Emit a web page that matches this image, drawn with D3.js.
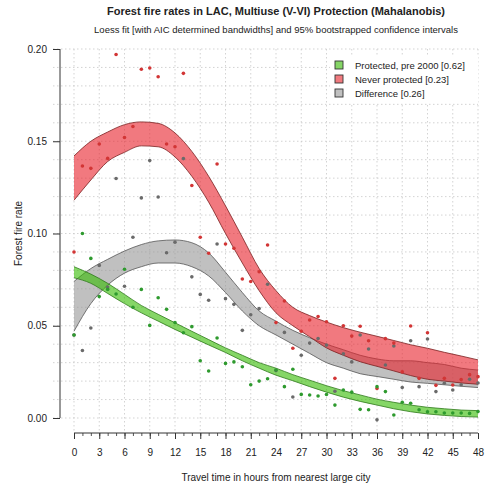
<!DOCTYPE html>
<html><head><meta charset="utf-8">
<script src="https://cdn.jsdelivr.net/npm/d3@7"></script>
<style>
html,body{margin:0;padding:0;background:#fff;}
svg text{font-family:"Liberation Sans",Arial,sans-serif;fill:#222;}
</style></head>
<body><svg id="c" width="489" height="486"></svg>
<script>
// ---- data ----
const title = "Forest fire rates in LAC, Multiuse (V-VI) Protection (Mahalanobis)";
const subtitle = "Loess fit [with AIC determined bandwidths] and 95% bootstrapped confidence intervals";
const xLabel = "Travel time in hours from nearest large city";
const yLabel = "Forest fire rate";
const xTicks = [0,3,6,9,12,15,18,21,24,27,30,33,36,39,42,45,48];
const yTicks = [0.00,0.05,0.10,0.15,0.20];
const legendLabels = ["Protected, pre 2000 [0.62]","Never protected [0.23]","Difference [0.26]"];

const hours = d3.range(0,49);
const protectedRate = [0.045,0.100,0.0865,0.0658,0.0697,0.0672,0.0806,0.060,0.0697,0.0502,0.0652,0.0589,0.0517,0.0462,0.0495,0.031,0.0255,0.0434,0.0296,0.0304,0.0278,0.018,0.020,0.0213,0.026,0.017,0.0264,0.0128,0.0125,0.0119,0.0127,0.007,0.0152,0.014,0.0047,0.0045,0.017,0.0143,0.0016,0.0085,0.008,0.0045,0.0034,0.0034,0.0027,0.0027,0.0027,0.0025,0.0035];
const neverRate = [0.090,0.1366,0.1353,0.1485,0.1407,0.197,0.152,0.158,0.189,0.1897,0.185,0.1485,0.147,0.1868,0.126,0.098,0.0893,0.1377,0.0943,0.092,0.0753,0.074,0.0793,0.0938,0.0517,0.0634,0.0378,0.047,0.0531,0.055,0.0522,0.0215,0.050,0.0444,0.0497,0.0419,0.016,0.043,0.0406,0.025,0.0499,0.0215,0.0462,0.0177,0.0215,0.0179,0.0208,0.0235,0.0224];
const diffRate = [0.045,0.0366,0.0488,0.0827,0.071,0.1298,0.0714,0.098,0.1193,0.1395,0.1198,0.0896,0.0953,0.1406,0.0765,0.067,0.0638,0.0943,0.0647,0.0616,0.0475,0.056,0.0593,0.0725,0.0257,0.0464,0.0114,0.034,0.0406,0.0431,0.0395,0.0145,0.0348,0.0304,0.045,0.0374,-0.001,0.0287,0.039,0.0165,0.0419,0.017,0.0428,0.0143,0.0188,0.0152,0.018,0.021,0.019];

const bandX = [0,2,4,6,8,10,12,14,16,18,20,22,24,26,28,30,32,34,36,38,40,42,44,46,48];
const neverUpper = [0.142,0.150,0.155,0.159,0.1605,0.1597,0.1545,0.1445,0.131,0.115,0.098,0.081,0.069,0.060,0.0555,0.052,0.049,0.0465,0.0443,0.042,0.0397,0.0378,0.0356,0.0336,0.0315];
const neverLower = [0.118,0.129,0.139,0.144,0.1475,0.147,0.1415,0.131,0.117,0.100,0.084,0.069,0.057,0.050,0.044,0.038,0.034,0.0305,0.028,0.0255,0.023,0.021,0.020,0.019,0.0183];
const diffUpper = [0.074,0.081,0.086,0.0905,0.094,0.096,0.0965,0.095,0.0895,0.079,0.068,0.058,0.0525,0.0475,0.0435,0.040,0.037,0.034,0.032,0.031,0.031,0.030,0.029,0.027,0.026];
const diffLower = [0.047,0.062,0.072,0.0785,0.082,0.084,0.084,0.082,0.077,0.068,0.058,0.050,0.045,0.040,0.035,0.030,0.027,0.024,0.0225,0.021,0.0195,0.0188,0.018,0.0172,0.0165];
const protUpper = [0.082,0.078,0.073,0.067,0.061,0.0562,0.0516,0.047,0.0425,0.038,0.034,0.030,0.027,0.0235,0.0205,0.0175,0.0148,0.0125,0.0102,0.0085,0.007,0.0058,0.005,0.0043,0.004];
const protLower = [0.076,0.073,0.0675,0.062,0.057,0.0525,0.048,0.0438,0.0396,0.0355,0.031,0.027,0.0232,0.0202,0.017,0.014,0.0113,0.009,0.007,0.005,0.0034,0.0022,0.0014,0.0008,0.0005];

// ---- drawing ----
const svg = d3.select("#c");
const x = d3.scaleLinear().domain([0,48]).range([74,478]);
const y = d3.scaleLinear().domain([0,0.2]).range([418,49]);

// grid
const grid = svg.append("g").attr("stroke","#c8c8c8").attr("stroke-width",0.8).attr("stroke-dasharray","1.5,2.5");
grid.selectAll("line.h").data(d3.range(0,21).map(i=>i/100)).join("line")
  .attr("x1",53).attr("x2",478).attr("y1",d=>y(d)).attr("y2",d=>y(d));
grid.selectAll("line.v").data(xTicks).join("line")
  .attr("x1",d=>x(d)).attr("x2",d=>x(d)).attr("y1",49).attr("y2",431);

const curve = d3.curveMonotoneX;
function band(upper, lower, fill, op, stroke){
  const pts = bandX.map((v,i)=>({x:v,u:upper[i],l:lower[i]}));
  svg.append("path").datum(pts)
    .attr("d", d3.area().curve(curve).x(d=>x(d.x)).y0(d=>y(d.l)).y1(d=>y(d.u)))
    .attr("fill",fill).attr("fill-opacity",op);
  const ln = d3.line().curve(curve).x(d=>x(d.x));
  svg.append("path").datum(pts).attr("d", ln.y(d=>y(d.u))).attr("fill","none").attr("stroke",stroke).attr("stroke-width",0.8);
  svg.append("path").datum(pts).attr("d", ln.y(d=>y(d.l))).attr("fill","none").attr("stroke",stroke).attr("stroke-width",0.8);
}
band(diffUpper, diffLower, "#969696", 0.6, "#555");
band(protUpper, protLower, "#33bb00", 0.6, "#2f7a1a");
band(neverUpper, neverLower, "#e8202a", 0.6, "#7a2020");

function pts(vals, color){
  svg.append("g").selectAll("circle").data(hours.map((h,i)=>({h,v:vals[i]}))).join("circle")
    .attr("cx",d=>x(d.h)).attr("cy",d=>y(d.v)).attr("r",1.8).attr("fill",color);
}
pts(diffRate, "#6a6a6a");
pts(neverRate, "#d23535");
pts(protectedRate, "#2e9a2e");

// axes
const yAxis = svg.append("g").attr("transform","translate(60,0)")
  .call(d3.axisLeft(y).tickValues(yTicks).tickFormat(d3.format(".2f")).tickSize(7).tickPadding(6));
yAxis.select(".domain").attr("d","M0,"+y(0)+"V"+y(0.2)).attr("stroke","#333");
yAxis.selectAll(".tick line").attr("stroke","#333");
yAxis.selectAll("text").attr("font-size",10).attr("fill","#333").style("font-family","'Liberation Sans',Arial,sans-serif");

const xAxisY = 433;
const xMinor = svg.append("g").attr("transform","translate(0,"+xAxisY+")")
  .call(d3.axisBottom(x).tickValues(d3.range(0,49)).tickSize(3).tickFormat(""));
xMinor.select(".domain").remove();
xMinor.selectAll(".tick line").attr("stroke","#555");
const xAxis = svg.append("g").attr("transform","translate(0,"+xAxisY+")")
  .call(d3.axisBottom(x).tickValues(xTicks).tickSize(6).tickPadding(10).tickFormat(d3.format("d")));
xAxis.select(".domain").attr("d","M"+x(0)+",0H"+x(48)).attr("stroke","#333");
xAxis.selectAll(".tick line").attr("stroke","#333");
xAxis.selectAll("text").attr("font-size",10).attr("fill","#333").style("font-family","'Liberation Sans',Arial,sans-serif");

// titles
svg.append("text").attr("x",276).attr("y",15).attr("text-anchor","middle").attr("fill","#111")
  .attr("font-size",11).attr("font-weight","bold").text(title);
svg.append("text").attr("x",276).attr("y",33).attr("text-anchor","middle").attr("fill","#222")
  .attr("font-size",9.5).text(subtitle);
svg.append("text").attr("x",276).attr("y",481).attr("text-anchor","middle").attr("fill","#222")
  .attr("font-size",10).text(xLabel);
svg.append("text").attr("transform","translate(22,233.5) rotate(-90)").attr("text-anchor","middle")
  .attr("fill","#222").style("fill","#222").attr("font-size",10).text(yLabel);

// legend
const lg = svg.append("g");
lg.append("rect").attr("x",330).attr("y",56).attr("width",148).attr("height",47).attr("fill","#fff");
const legFill = ["#85d566","#f17a7f","#c0c0c0"];
legendLabels.forEach((t,i)=>{
  const cy = 65 + i*14;
  lg.append("rect").attr("x",335).attr("y",cy-4).attr("width",8).attr("height",8)
    .attr("fill",legFill[i]).attr("stroke","#333").attr("stroke-width",0.9);
  lg.append("text").attr("x",355).attr("y",cy+3.5).attr("font-size",9.5).text(t);
});
</script></body></html>
